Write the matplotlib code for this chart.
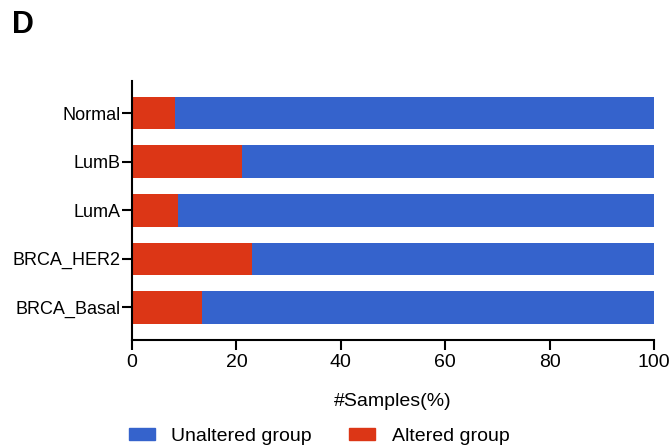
import matplotlib
matplotlib.use('Agg')
import matplotlib.pyplot as plt
from matplotlib.patches import Patch

# data
kategori = ['BRCA_Basal', 'BRCA_HER2', 'LumA', 'LumB', 'Normal']
altered = [13.4, 23.0, 8.8, 21.0, 8.3]
unaltered = [100 - v for v in altered]

warna_biru = '#3563CC'
warna_merah = '#DC3616'

plt.rcParams['font.family'] = ['Liberation Sans', 'DejaVu Sans']

fig = plt.figure(figsize=(6.7, 4.46), dpi=100)
ax = fig.add_axes([0.197, 0.238, 0.779, 0.58])

pos = list(range(len(kategori)))
ax.barh(pos, altered, height=0.67, color=warna_merah)
ax.barh(pos, unaltered, left=altered, height=0.67, color=warna_biru)

ax.set_xlim(0, 100)
ax.set_ylim(-0.67, 4.66)
ax.set_yticks(pos)
ax.set_yticklabels(kategori, fontsize=13)
ax.set_xticks([0, 20, 40, 60, 80, 100])
ax.tick_params(axis='x', labelsize=14, length=7, width=1.5, pad=3)
ax.tick_params(axis='y', length=7, width=1.5, pad=1)

for s in ['top', 'right']:
    ax.spines[s].set_visible(False)
for s in ['left', 'bottom']:
    ax.spines[s].set_linewidth(1.5)

ax.set_xlabel('#Samples(%)', fontsize=14, labelpad=16)

fig.text(0.018, 0.943, 'D', fontsize=22, fontweight='bold', va='center')

handles = [Patch(color=warna_biru, label='Unaltered group'),
           Patch(color=warna_merah, label='Altered group')]
fig.legend(handles=handles, loc='center left', bbox_to_anchor=(0.166, 0.022),
           ncol=2, frameon=False, fontsize=14, handlelength=1.35,
           handleheight=0.55, columnspacing=1.9, handletextpad=0.85)

plt.savefig('out.png', dpi=100)
plt.close()
